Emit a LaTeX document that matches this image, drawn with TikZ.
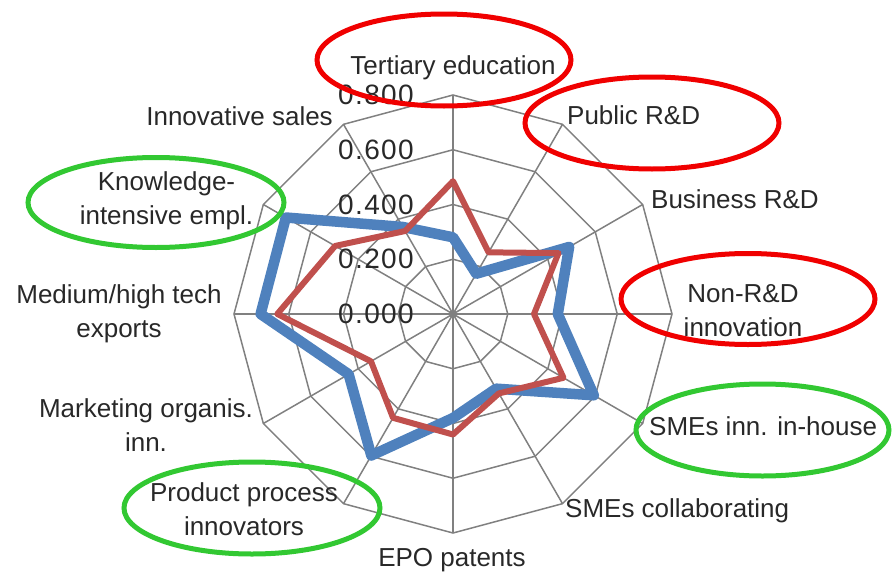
\documentclass[tikz,border=0pt]{standalone}
\usepackage{fontspec}
\setmainfont{Liberation Sans}
\newfontfamily\ticksfont[LetterSpace=5]{Liberation Sans}
\definecolor{gridgray}{RGB}{128,128,128}
\definecolor{serblue}{RGB}{79,129,189}
\definecolor{serred}{RGB}{192,80,77}
\definecolor{ringred}{RGB}{240,0,0}
\definecolor{ringgreen}{RGB}{50,200,50}
\definecolor{txt}{RGB}{40,40,40}
\tikzset{
  webline/.style={gridgray, line width=1.5pt},
  ticklabel/.style={anchor=east, inner sep=0pt, text=txt, font=\ticksfont\fontsize{28}{32}\selectfont},
  catlabel/.style={inner sep=0pt, align=center, text=txt, font=\fontsize{26}{34}\selectfont},
  blueseries/.style={serblue, line width=10.5pt, line join=round},
  redseries/.style={serred, line width=6pt, line join=round},
  redring/.style={ringred, line width=5pt},
  greenring/.style={ringgreen, line width=5pt}
}
\begin{document}
\begin{tikzpicture}[x=1pt, y=1pt]
  \useasboundingbox (-453, -260) rectangle (439, 314) ;
  \foreach \r in {54.75, 109.5, 164.25, 219}
    \draw[webline] (90:\r) \foreach \a in {60, 30, 0, -30, -60, -90, -120, -150, -180, -210, -240} { -- (\a:\r) } -- cycle ;
  \foreach \a in {30, 60, 90, 120, 150, 210, 240, 270, 300, 330}
    \draw[webline] (0, 0) -- (\a:219) ;
  \draw[webline, line width=2.2pt] (180:219) -- (0:219) ;
  \fill[gridgray] (0, 0) circle (4) ;
  \foreach \v [count=\i from 0] in {0.000, 0.200, 0.400, 0.600, 0.800}
    \node[ticklabel] (tick\i) at (-39, \i*54.75) {\v} ;
  \node[catlabel, anchor=base] (tertiary) at (0, 240) {Tertiary education} ;
  \node[catlabel, anchor=base west] (publicrd) at (114, 190) {Public R\&D} ;
  \node[catlabel, anchor=base west] (businessrd) at (198, 106) {Business R\&D} ;
  \node[catlabel] (nonrd) at (290, 3) {Non-R\&D\\innovation} ;
  \node[catlabel, anchor=base west] (smeinhouse) at (196, -121) {SMEs inn. in-house} ;
  \node[catlabel, anchor=base west] (smecollab) at (112, -203) {SMEs collaborating} ;
  \node[catlabel, anchor=base] (epo) at (-1, -252) {EPO patents} ;
  \node[catlabel] (prodproc) at (-209, -195) {Product process\\innovators} ;
  \node[catlabel] (mktorg) at (-307, -111) {Marketing organis.\\inn.} ;
  \node[catlabel] (medhigh) at (-334, 0.5) {Medium/high tech\\exports} ;
  \node[catlabel] (knowint) at (-286.5, 113.4) {Knowledge-\\intensive empl.} ;
  \node[catlabel, anchor=base east] (innsales) at (-120, 189) {Innovative sales} ;
  \draw[blueseries] (90:76.7) -- (60:46.5) -- (30:134.1) -- (0:104.8) -- (-30:162.6) -- (-60:86.2) -- (-90:104.0) -- (-120:163.4) -- (-150:120.5) -- (180:192.4) -- (150:193.0) -- (120:100.5) -- cycle ;
  \draw[redseries] (90:132.8) -- (60:71.2) -- (30:121.8) -- (0:81.0) -- (-30:127.6) -- (-60:91.7) -- (-90:120.5) -- (-120:119.9) -- (-150:94.7) -- (180:175.7) -- (150:136.1) -- (120:95.8) -- cycle ;
  \draw[redring] (-9, 254) ellipse (127 and 46) ;
  \draw[redring] (199, 191) ellipse (127 and 46) ;
  \draw[redring] (295, 15) ellipse (127 and 45.5) ;
  \draw[greenring] (309.5, -116) ellipse (126.5 and 46) ;
  \draw[greenring] (-297, 111.5) ellipse (128 and 45) ;
  \draw[greenring] (-201, -194) ellipse (128 and 46) ;
\end{tikzpicture}
\end{document}
